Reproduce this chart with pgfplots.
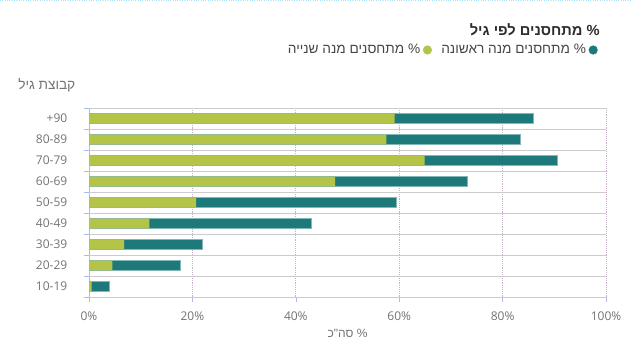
\documentclass[border=0pt]{standalone}
\usepackage{fontspec}
\setmainfont{Open Sans}
\newfontfamily\heb[Script=Hebrew]{Liberation Sans}
\usepackage{pgfplots}
\pgfplotsset{compat=1.18}
\TeXXeTstate=1
\definecolor{teal1}{RGB}{30,122,122}
\definecolor{lime1}{RGB}{180,196,70}
\definecolor{tickgray}{RGB}{115,115,115}
\definecolor{titlecol}{RGB}{45,45,45}
\definecolor{legcol}{RGB}{70,70,70}
\definecolor{tickblue}{RGB}{170,190,235}
\definecolor{gridpurple}{RGB}{200,175,200}
\begin{document}
\begin{tikzpicture}
\path[use as bounding box] (0,0) rectangle (474pt,260.25pt);
\draw[densely dotted, cyan!35, line width=0.75pt] (0,259.6pt) -- (474pt,259.6pt);
\begin{axis}[
  at={(66.75pt,37.5pt)}, anchor=south west,
  width=387.75pt, height=141.75pt, scale only axis,
  xmin=0, xmax=100, ymin=-0.5, ymax=8.5,
  axis x line*=bottom, axis y line*=left,
  x axis line style={densely dotted, color=gray!70},
  y axis line style={color=tickblue, line width=0.6pt},
  xtick={0,20,...,100},
  xticklabel={\pgfmathprintnumber{\tick}\%},
  /pgf/number format/assume math mode=true,
  ytick={0,...,8},
  yticklabels={10-19,20-29,30-39,40-49,50-59,60-69,70-79,80-89,+90},
  ytick style={draw=none},
  xtick style={draw=tickblue},
  tick align=outside, major tick length=3.75pt,
  xmajorgrids,
  major grid style={densely dotted, color=gridpurple, line width=0.6pt},
  extra y ticks={-0.5,0.5,...,8.5},
  extra y tick labels={},
  extra y tick style={grid=major, major grid style={solid, color=gray!40, line width=0.6pt}, ytick style={draw=tickblue}},
  ticklabel style={font=\fontsize{9}{10}\selectfont, text=tickgray},
  xticklabel style={yshift=-3.5pt},
  yticklabel style={xshift=-9pt},
  legend style={at={(0.9845,1.307)}, anchor=east, draw=none, fill=none,
    font=\heb\fontsize{10.25}{12}\selectfont, text=legcol,
    legend columns=2, inner sep=0pt,
    /tikz/every even column/.append style={column sep=5pt}},
  legend plot pos=right,
]
\addplot[xbar, bar shift=0pt, bar width=0.47, fill=teal1, draw=teal1!55!white, line width=0.5pt, forget plot]
  coordinates {(4.0,0) (17.6,1) (22.0,2) (43.0,3) (59.5,4) (73.2,5) (90.5,6) (83.5,7) (86.0,8)};
\addplot[xbar, bar shift=0pt, bar width=0.47, fill=lime1, draw=none, forget plot]
  coordinates {(0.5,0) (4.5,1) (6.8,2) (11.7,3) (20.7,4) (47.6,5) (64.9,6) (57.5,7) (59.1,8)};
\addlegendimage{legend image code/.code={\fill[lime1] (0.25em,0) circle (3.2pt);}}
\addlegendentry{\beginR\% מתחסנים מנה שנייה\endR}
\addlegendimage{legend image code/.code={\fill[teal1] (0.25em,0) circle (3.2pt);}}
\addlegendentry{\beginR\% מתחסנים מנה ראשונה\endR}
\end{axis}
\node[anchor=east, font=\heb\bfseries\fontsize{11}{13}\selectfont, text=titlecol, inner sep=0pt] at (450pt,237.75pt) {\beginR\% מתחסנים לפי גיל\endR};
\node[anchor=west, font=\heb\fontsize{10.25}{12}\selectfont, text=tickgray, inner sep=0pt] at (13.5pt,196.5pt) {\beginR קבוצת גיל\endR};
\node[font=\heb\fontsize{9}{11}\selectfont, text=tickgray, inner sep=0pt] at (260.6pt,10.5pt) {\beginR\% סה"כ\endR};
\end{tikzpicture}
\end{document}
